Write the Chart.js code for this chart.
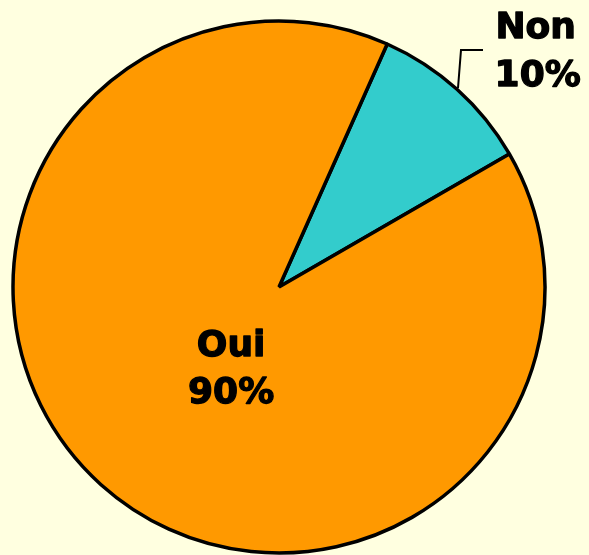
<!DOCTYPE html>
<html>
<head>
<meta charset="utf-8">
<script src="https://cdn.jsdelivr.net/npm/chart.js@4"></script>
<style>
  html, body { margin: 0; padding: 0; background: #FFFFE0; overflow: hidden; }
  #wrap { width: 589px; height: 555px; }
</style>
</head>
<body>
<div id="wrap"><canvas id="myChart" width="589" height="555"></canvas></div>
<script>
const labels = ['Non', 'Oui']
const values = [10, 90]
const sliceColors = ['#33CCCC', '#FF9900']

// draws the slice labels and the leader line for "Non"
const sliceLabels = {
  id: 'sliceLabels',
  afterDatasetsDraw(chart) {
    const ctx = chart.ctx
    const arcs = chart.getDatasetMeta(0).data
    const cx = arcs[0].x, cy = arcs[0].y, r = arcs[0].outerRadius
    const total = values.reduce((a, b) => a + b, 0)
    const pct = values.map(v => Math.round(v / total * 100) + '%')

    ctx.save()
    ctx.fillStyle = '#000'
    ctx.strokeStyle = '#000'
    ctx.lineWidth = 1.3
    ctx.lineJoin = 'round'
    ctx.font = 'bold 36px "DejaVu Sans", Verdana, sans-serif'
    ctx.textAlign = 'center'
    ctx.textBaseline = 'middle'
    const txt = (s, x, y) => { ctx.fillText(s, x, y); ctx.strokeText(s, x, y) }

    // Oui, inside the big slice
    let x = cx - 0.18 * r, y = cy + 0.225 * r
    txt(labels[1], x, y)
    txt(pct[1], x, y + 47)

    // Non, outside with a leader line
    x = cx + 0.965 * r
    y = cy - 0.97 * r
    txt(labels[0], x, y)
    txt(pct[0], x + 2, y + 48)

    ctx.lineWidth = 2
    ctx.lineJoin = 'miter'
    ctx.beginPath()
    ctx.moveTo(458, 88)
    ctx.lineTo(461, 50)
    ctx.lineTo(483, 50)
    ctx.stroke()
    ctx.restore()
  }
}

new Chart('myChart', {
  type: 'pie',
  data: {
    labels: labels,
    datasets: [{
      data: values,
      backgroundColor: sliceColors,
      borderColor: '#000',
      borderWidth: 3.5,
      hoverOffset: 0
    }]
  },
  options: {
    responsive: false,
    animation: false,
    rotation: 24,
    radius: 266,
    layout: { padding: { left: 0, right: 31, top: 19, bottom: 0 } },
    plugins: {
      legend: { display: false },
      tooltip: { enabled: false }
    }
  },
  plugins: [sliceLabels]
})
</script>
</body>
</html>
